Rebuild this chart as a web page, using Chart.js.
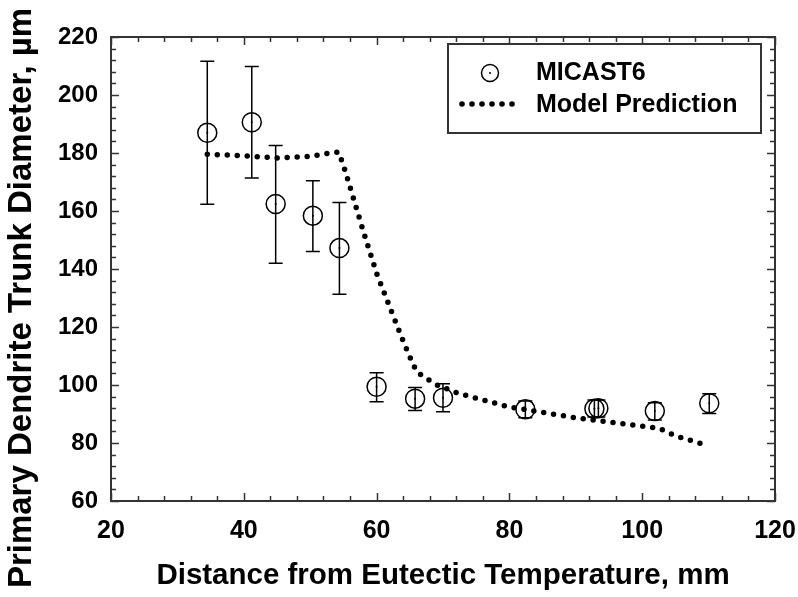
<!DOCTYPE html>
<html>
<head>
<meta charset="utf-8">
<script src="https://cdn.jsdelivr.net/npm/chart.js@4"></script>
<style>
    html, body { margin: 0; padding: 0; background: #fff; }
    #wrap { width: 798px; height: 597px; }
</style>
</head>
<body>
<div id="wrap"><canvas id="myChart" width="798" height="597"></canvas></div>
<script>
// Datos medidos (MICAST6)
const distancia = [34.5, 41.2, 44.8, 50.4, 54.4, 60.0, 65.8, 70.0, 82.4, 92.8, 93.4, 101.9, 110.1];
const diametro  = [187.0, 190.6, 162.4, 158.4, 147.2, 99.4, 95.3, 95.6, 91.6, 91.8, 92.0, 91.0, 93.7];
const errAlto   = [211.6, 209.8, 182.6, 170.4, 162.9, 104.2, 99.1, 100.4, 94.5, 94.8, 94.8, 93.9, 97.0];
const errBajo   = [162.3, 171.4, 142.0, 146.0, 131.3, 94.2, 91.2, 90.8, 88.7, 89.0, 89.0, 87.9, 90.2];

// Prediccion del modelo
const modeloX = [34.5, 40, 45, 50, 52.5, 54.3, 55.3, 58, 60, 62.3, 64.1, 65.4, 66.1, 67.7, 69.2, 72.2, 79.8, 90.5, 96, 102.6, 105, 108.6, 110.1];
const modeloY = [179.6, 179.0, 178.3, 178.8, 179.8, 180.3, 173.6, 153.0, 138.5, 125.0, 114.6, 107.6, 104.4, 102.0, 99.9, 97.2, 92.5, 88.5, 87.0, 85.0, 82.5, 80.0, 79.0];

// Ejes
const xTicks = [20, 40, 60, 80, 100, 120];
const yTicks = [60, 80, 100, 120, 140, 160, 180, 200, 220];
const xMinor = 4;
const yMinor = 4;
const tituloY = "Primary Dendrite Trunk Diameter, µm";

const fuente = "'Liberation Sans', Arial, Helvetica, sans-serif";

/**
 * Marco y marcas hacia adentro en los cuatro lados
 */
const marcoPlugin = {
    id: "marco",
    afterDraw(chart) {
        const { ctx, chartArea: a, scales } = chart;
        ctx.save();
        ctx.strokeStyle = "#333";
        ctx.lineWidth = 2;
        ctx.strokeRect(a.left, a.top, a.right - a.left, a.bottom - a.top);
        ctx.lineWidth = 1.5;
        ctx.beginPath();
        const xs = scales.x, ys = scales.y;
        for (let v = xTicks[0]; v <= xTicks[xTicks.length - 1]; v += xMinor) {
            const px = Math.round(xs.getPixelForValue(v)) + 0.5;
            const len = xTicks.includes(v) ? 8 : 5;
            ctx.moveTo(px, a.bottom); ctx.lineTo(px, a.bottom - len);
            ctx.moveTo(px, a.top); ctx.lineTo(px, a.top + len);
        }
        for (let v = yTicks[0]; v <= yTicks[yTicks.length - 1]; v += yMinor) {
            const py = Math.round(ys.getPixelForValue(v)) + 0.5;
            const len = yTicks.includes(v) ? 8 : 5;
            ctx.moveTo(a.left, py); ctx.lineTo(a.left + len, py);
            ctx.moveTo(a.right, py); ctx.lineTo(a.right - len, py);
        }
        ctx.stroke();

        // titulo del eje Y (rotado)
        ctx.fillStyle = "#000";
        ctx.font = "bold 33px " + fuente;
        ctx.textAlign = "center";
        ctx.textBaseline = "middle";
        ctx.translate(22, 298);
        ctx.rotate(-Math.PI / 2);
        ctx.fillText(tituloY, 0, 0);
        ctx.restore();
    }
};

/**
 * Barras de error y punto central de cada circulo
 */
const erroresPlugin = {
    id: "errores",
    afterDatasetsDraw(chart) {
        const { ctx, scales } = chart;
        ctx.save();
        ctx.strokeStyle = "#000";
        ctx.fillStyle = "#000";
        ctx.lineWidth = 1.5;
        distancia.forEach((x, i) => {
            const px = scales.x.getPixelForValue(x);
            const pAlto = scales.y.getPixelForValue(errAlto[i]);
            const pBajo = scales.y.getPixelForValue(errBajo[i]);
            ctx.beginPath();
            ctx.moveTo(px, pAlto); ctx.lineTo(px, pBajo);
            ctx.moveTo(px - 7, pAlto); ctx.lineTo(px + 7, pAlto);
            ctx.moveTo(px - 7, pBajo); ctx.lineTo(px + 7, pBajo);
            ctx.stroke();
            ctx.beginPath();
            ctx.arc(px, scales.y.getPixelForValue(diametro[i]), 1, 0, Math.PI * 2);
            ctx.fill();
        });
        ctx.restore();
    }
};

/**
 * Leyenda dentro del area de la grafica
 */
const leyendaPlugin = {
    id: "leyenda",
    afterDraw(chart) {
        const { ctx, chartArea: a } = chart;
        const x0 = a.left + 337, y0 = a.top + 7, w = 313, h = 89;
        ctx.save();
        ctx.strokeStyle = "#333";
        ctx.lineWidth = 2;
        ctx.strokeRect(x0, y0, w, h);
        // simbolo circulo
        ctx.strokeStyle = "#000";
        ctx.fillStyle = "#000";
        ctx.lineWidth = 1.5;
        ctx.beginPath();
        ctx.arc(x0 + 42, y0 + 29, 8.5, 0, Math.PI * 2);
        ctx.stroke();
        ctx.beginPath();
        ctx.arc(x0 + 42, y0 + 29, 1, 0, Math.PI * 2);
        ctx.fill();
        // simbolo punteado
        for (let k = 0; k < 6; k++) {
            ctx.beginPath();
            ctx.arc(x0 + 14 + k * 10, y0 + 60, 2.8, 0, Math.PI * 2);
            ctx.fill();
        }
        ctx.font = "bold 25px " + fuente;
        ctx.textBaseline = "middle";
        ctx.fillText(chart.data.datasets[0].label, x0 + 88, y0 + 29);
        ctx.fillText(chart.data.datasets[1].label, x0 + 88, y0 + 61);
        ctx.restore();
    }
};

const ctx = document.getElementById("myChart");

new Chart(ctx.getContext("2d"), {
    type: "scatter",
    data: {
        datasets: [
            {
                label: "MICAST6",
                data: distancia.map((x, i) => ({ x: x, y: diametro[i] })),
                pointStyle: "circle",
                pointRadius: 9.5,
                pointBorderWidth: 1.5,
                pointBorderColor: "#000",
                pointBackgroundColor: "rgba(0,0,0,0)",
                showLine: false,
                order: 1
            },
            {
                label: "Model Prediction",
                data: modeloX.map((x, i) => ({ x: x, y: modeloY[i] })),
                showLine: true,
                borderColor: "#000",
                borderWidth: 5.5,
                borderDash: [0, 10],
                borderCapStyle: "round",
                pointRadius: 0,
                tension: 0,
                order: 2
            }
        ]
    },
    options: {
        responsive: false,
        animation: false,
        layout: { padding: { left: 0, top: 37, right: 23, bottom: 0 } },
        plugins: {
            legend: { display: false },
            tooltip: { enabled: false }
        },
        scales: {
            x: {
                type: "linear",
                min: 20,
                max: 120,
                afterFit: (scale) => {
                    scale.height = 96;
                    scale.paddingLeft = 0;
                    scale.paddingRight = 0;
                },
                afterBuildTicks: (scale) => { scale.ticks = xTicks.map(v => ({ value: v })); },
                grid: { display: false, drawTicks: false },
                border: { display: false },
                ticks: {
                    color: "#000",
                    padding: 15,
                    maxRotation: 0,
                    font: { family: fuente, size: 25, weight: "bold" }
                },
                title: {
                    display: true,
                    text: "Distance from Eutectic Temperature, mm",
                    color: "#000",
                    padding: { top: 0, bottom: 3 },
                    font: { family: fuente, size: 29.5, weight: "bold" }
                }
            },
            y: {
                type: "linear",
                min: 60,
                max: 220,
                afterFit: (scale) => {
                    scale.width = 111;
                    scale.paddingTop = 0;
                    scale.paddingBottom = 0;
                },
                afterBuildTicks: (scale) => { scale.ticks = yTicks.map(v => ({ value: v })); },
                grid: { display: false, drawTicks: false },
                border: { display: false },
                ticks: {
                    color: "#000",
                    padding: 13,
                    font: { family: fuente, size: 24, weight: "bold" }
                },
                title: { display: false }
            }
        }
    },
    plugins: [marcoPlugin, erroresPlugin, leyendaPlugin]
});
</script>
</body>
</html>
